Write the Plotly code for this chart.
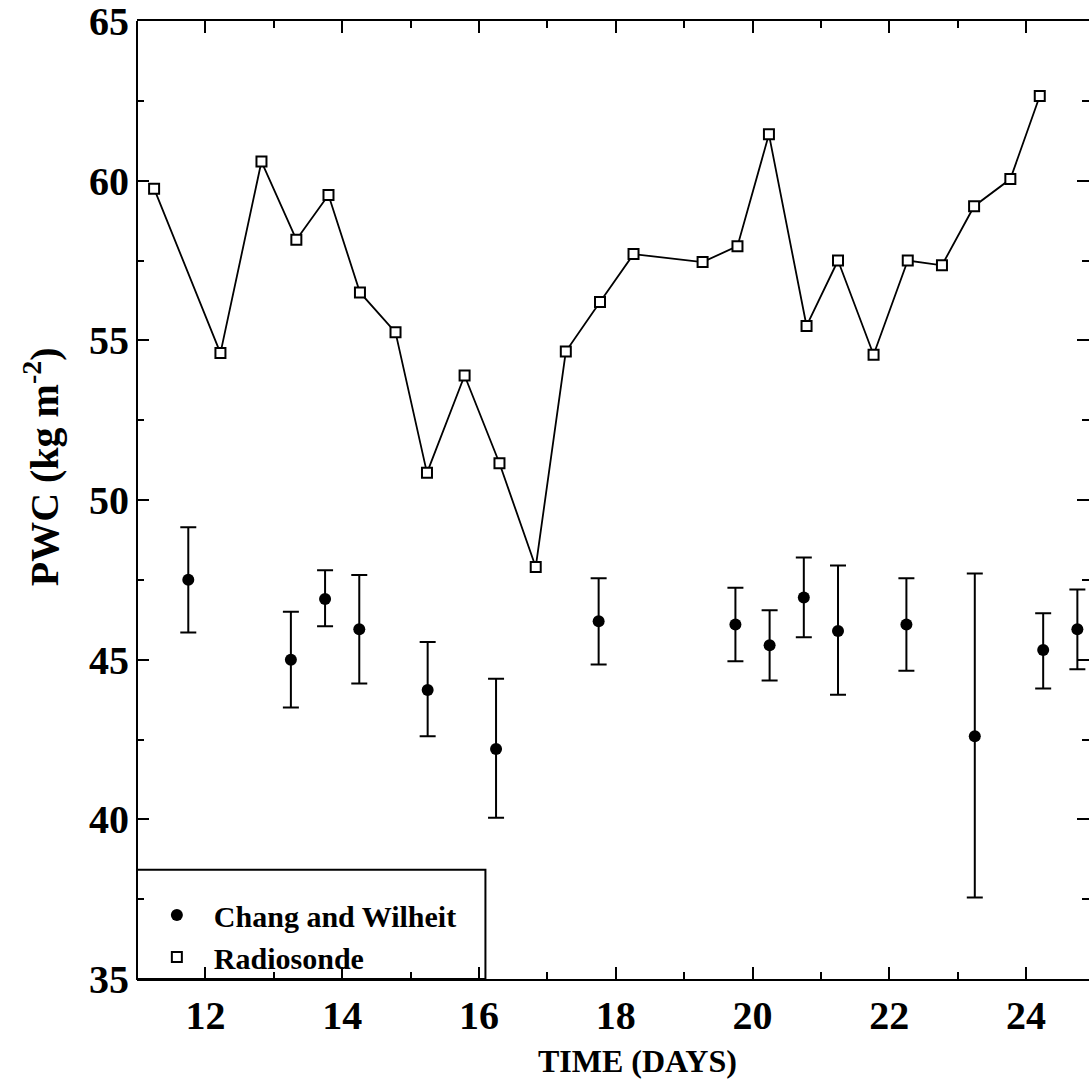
import plotly.graph_objects as go

# ---- data ----
chang_x = [11.75, 13.25, 13.75, 14.25, 15.25, 16.25, 17.75, 19.75, 20.25, 20.75, 21.25, 22.25, 23.25, 24.25, 24.75]
chang_y = [47.5, 45.0, 46.9, 45.95, 44.05, 42.2, 46.2, 46.1, 45.45, 46.95, 45.9, 46.1, 42.6, 45.3, 45.95]
chang_hi = [49.15, 46.5, 47.8, 47.65, 45.55, 44.4, 47.55, 47.25, 46.55, 48.2, 47.95, 47.55, 47.7, 46.45, 47.2]
chang_lo = [45.85, 43.5, 46.05, 44.25, 42.6, 40.05, 44.85, 44.95, 44.35, 45.7, 43.9, 44.65, 37.55, 44.1, 44.7]

radio_x = [11.25, 12.22, 12.82, 13.33, 13.8, 14.26, 14.78, 15.24, 15.79, 16.3, 16.83, 17.27, 17.77, 18.26,
           19.27, 19.78, 20.24, 20.79, 21.25, 21.77, 22.27, 22.77, 23.24, 23.77, 24.2]
radio_y = [59.75, 54.6, 60.6, 58.15, 59.55, 56.5, 55.25, 50.85, 53.9, 51.15, 47.9, 54.65, 56.2, 57.7,
           57.45, 57.95, 61.45, 55.45, 57.5, 54.55, 57.5, 57.35, 59.2, 60.05, 62.65]

x_ticks = [12, 14, 16, 18, 20, 22, 24]
y_ticks = [35, 40, 45, 50, 55, 60, 65]

FONT = "Liberation Serif"

err_plus = [h - v for h, v in zip(chang_hi, chang_y)]
err_minus = [v - l for v, l in zip(chang_y, chang_lo)]

fig = go.Figure()

fig.add_trace(go.Scatter(
    x=radio_x, y=radio_y, mode="lines+markers", showlegend=False,
    line=dict(color="black", width=1.8),
    marker=dict(symbol="square", size=10, color="white", line=dict(color="black", width=2)),
))

fig.add_trace(go.Scatter(
    x=chang_x, y=chang_y, mode="markers", showlegend=False,
    marker=dict(symbol="circle", size=12, color="black"),
    error_y=dict(type="data", symmetric=False, array=err_plus, arrayminus=err_minus,
                 color="black", thickness=2, width=8),
))

# legend-only entries
fig.add_trace(go.Scatter(x=[None], y=[None], mode="markers", name="Chang and Wilheit",
                         marker=dict(symbol="circle", size=12, color="black")))
fig.add_trace(go.Scatter(x=[None], y=[None], mode="markers", name="Radiosonde",
                         marker=dict(symbol="square", size=10, color="white",
                                     line=dict(color="black", width=2))))

tick_font = dict(family=FONT, size=40, color="black", weight="bold")

fig.update_xaxes(showgrid=False, zeroline=False, showline=True, linecolor="black", linewidth=2,
                 mirror="ticks", ticks="inside", tickcolor="black", tickwidth=2, ticklen=12,
                 tickfont=tick_font, range=[11, 24.92], tickvals=x_ticks,
                 ticklabelstandoff=0, ticklabeloverflow="allow",
                 minor=dict(dtick=1, ticks="inside", ticklen=7, tickwidth=2, tickcolor="black"))
fig.update_yaxes(showgrid=False, zeroline=False, showline=False,
                 mirror="ticks", ticks="inside", tickcolor="black", tickwidth=2, ticklen=12,
                 tickfont=tick_font, range=[35, 65], tickvals=y_ticks,
                 ticklabelstandoff=7, ticklabeloverflow="allow",
                 minor=dict(dtick=2.5, ticks="inside", ticklen=7, tickwidth=2, tickcolor="black"))

fig.update_layout(
    width=1089, height=1081,
    margin=dict(l=137, r=0, t=21, b=102),
    paper_bgcolor="white", plot_bgcolor="white",
    font=dict(family=FONT, color="black"),
    legend=dict(x=0.003, y=0.094, xanchor="left", yanchor="top",
                bgcolor="rgba(0,0,0,0)", borderwidth=0,
                font=dict(family=FONT, size=30, color="black", weight="bold"),
                tracegroupgap=0, itemwidth=64),
    shapes=[
        dict(type="rect", xref="paper", yref="paper", x0=0, x1=0.366, y0=0, y1=0.114,
             line=dict(color="black", width=2), fillcolor="white", layer="below"),
        dict(type="line", xref="paper", yref="paper", x0=0, x1=0, y0=0, y1=1,
             line=dict(color="black", width=2)),
    ],
    annotations=[
        dict(text="TIME (DAYS)", xref="paper", yref="paper", x=0.526, y=-0.086,
             showarrow=False, xanchor="center", yanchor="middle",
             font=dict(family=FONT, size=32, color="black", weight="bold")),
        dict(text="PWC (kg m<sup>-2</sup>)", xref="paper", yref="paper", x=-0.1, y=0.535,
             textangle=-90, showarrow=False, xanchor="center", yanchor="middle",
             font=dict(family=FONT, size=40, color="black", weight="bold")),
    ],
)

fig.write_html("out.html")
